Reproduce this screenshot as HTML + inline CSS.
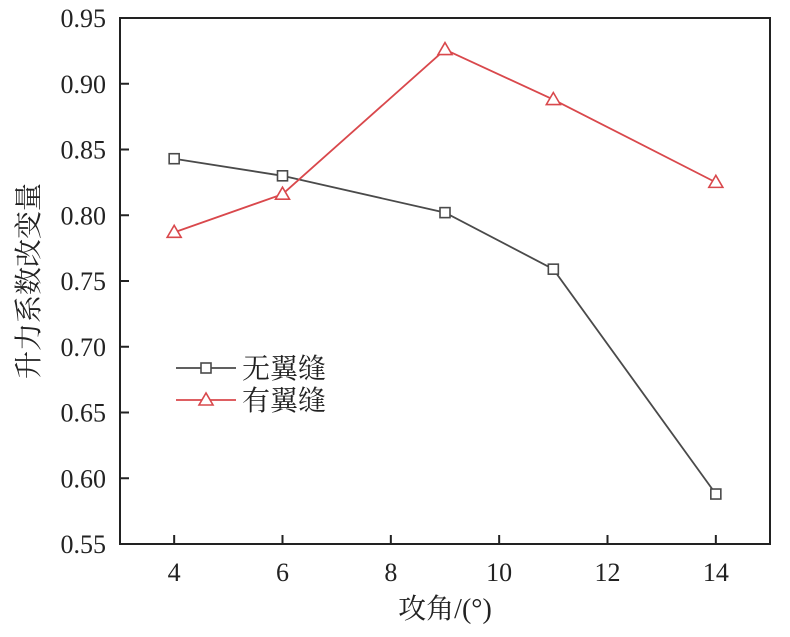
<!DOCTYPE html>
<html><head><meta charset="utf-8"><style>
body{margin:0;background:#fff}
svg text{font-family:"Liberation Serif","Noto Serif CJK SC",serif;fill:#222}
</style></head><body>
<svg id="chart" width="790" height="632" xmlns="http://www.w3.org/2000/svg">
<g id="axes"></g><g id="series"></g><g id="legend"></g>
</svg>
<script>
const xTicks=[4,6,8,10,12,14];
const yTicks=[0.55,0.60,0.65,0.70,0.75,0.80,0.85,0.90,0.95];
const angles=[4,6,9,11,14];
const noSlot=[0.843,0.830,0.802,0.759,0.588];
const withSlot=[0.787,0.816,0.926,0.888,0.825];
const L=120,R=770,T=18,B=544;
const X=v=>L+(v-3)/12*(R-L);
const Y=v=>B-(v-0.55)/0.40*(B-T);
const NS="http://www.w3.org/2000/svg";
function mk(tag,attrs,parent){const e=document.createElementNS(NS,tag);for(const k in attrs)e.setAttribute(k,attrs[k]);parent.appendChild(e);return e;}
const ax=document.getElementById('axes');
let f=mk('rect',{x:L,y:T,width:R-L,height:B-T,fill:'none',stroke:'#222','stroke-width':2},ax);


xTicks.forEach(v=>{
 let t=mk('line',{x1:X(v),x2:X(v),y1:B,y2:B-9,stroke:'#222','stroke-width':2},ax);
 
 
 let l=mk('text',{x:X(v),y:B+37,'text-anchor':'middle','font-size':26},ax);l.textContent=v;
 
 
});
yTicks.forEach(v=>{
 let t=mk('line',{x1:L,x2:L+9,y1:Y(v),y2:Y(v),stroke:'#222','stroke-width':2},ax);
 
 
 let l=mk('text',{x:L-14,y:Y(v)+9,'text-anchor':'end','font-size':26},ax);l.textContent=v.toFixed(2);
 
 
});
let xt=mk('text',{x:(L+R)/2,y:618,'text-anchor':'middle','font-size':28},ax);xt.textContent='攻角/(°)';


let yt=mk('text',{x:0,y:0,'text-anchor':'middle','font-size':28,transform:`translate(38,${(T+B)/2}) rotate(-90)`},ax);yt.textContent='升力系数改变量';


const sg=document.getElementById('series');
function square(x,y,c,p){return mk('rect',{x:x-5,y:y-5,width:10,height:10,fill:'#fff',stroke:c,'stroke-width':1.6},p);}
function tri(x,y,c,p){return mk('polygon',{points:`${x},${y-7} ${x-7},${y+5} ${x+7},${y+5}`,fill:'#fff',stroke:c,'stroke-width':1.6},p);}
function series(vals,c,marker,name){
 let pl=mk('polyline',{points:angles.map((a,i)=>X(a)+','+Y(vals[i])).join(' '),fill:'none',stroke:c,'stroke-width':1.8},sg);
 
 
 angles.forEach((a,i)=>{let m=marker(X(a),Y(vals[i]),c,sg);
  
  });
}
series(noSlot,'#4a4a4a',square,'no-slot');
series(withSlot,'#d9484c',tri,'with-slot');
const lg=document.getElementById('legend');
[['无翼缝','#4a4a4a',square,368,'no-slot'],['有翼缝','#d9484c',tri,400,'with-slot']].forEach(d=>{
 let ln=mk('line',{x1:176,x2:236,y1:d[3],y2:d[3],stroke:d[1],'stroke-width':1.8},lg);
 
 
 let m=d[2](206,d[3],d[1],lg);
 
 
 let t=mk('text',{x:242,y:d[3]+10,'font-size':28},lg);t.textContent=d[0];
 
 
});
</script>
</body></html>
